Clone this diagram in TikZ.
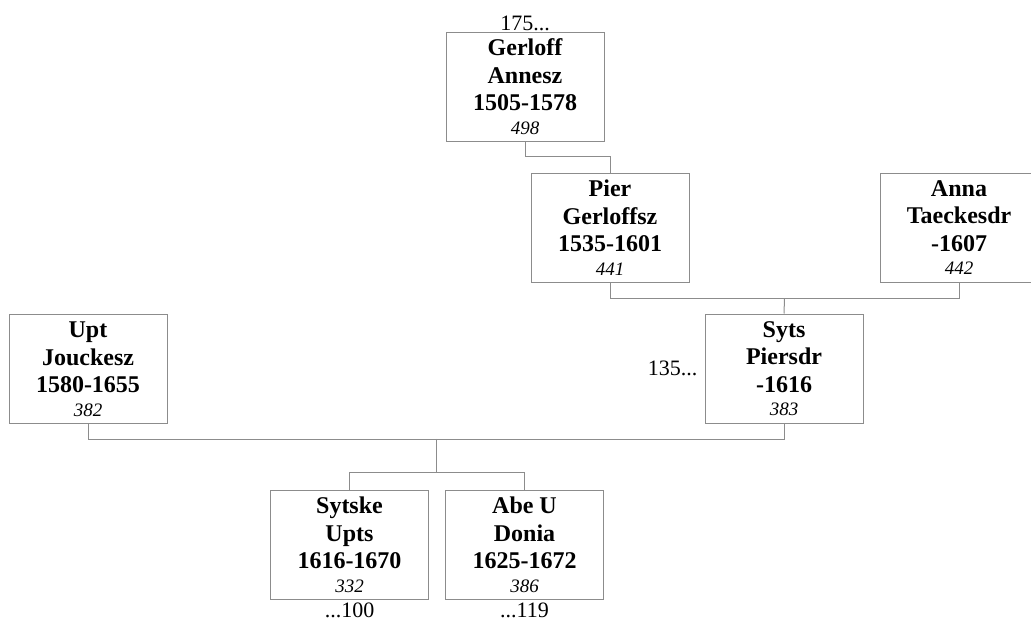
\documentclass[tikz,border=0pt]{standalone}
\usepackage{fontspec}
\setmainfont{Liberation Serif}
\usepackage{xcolor}
\usepackage{tikz}
\usetikzlibrary{positioning,calc}
\definecolor{borde}{RGB}{140,140,140}
\tikzset{
  persona/.style={draw=borde,line width=1pt,fill=white,minimum width=158pt,minimum height=109pt,
    inner sep=2pt,align=center,font=\fontsize{24}{27.5}\selectfont\bfseries},
  enlace/.style={draw=borde,line width=1pt},
  resto/.style={font=\fontsize{22}{24}\selectfont,inner sep=1pt}
}
\newcommand{\nro}[1]{\\[-4pt]{\fontsize{19}{21}\selectfont\mdseries\itshape #1}}

\begin{document}
\begin{tikzpicture}[x=1pt,y=-1pt]
\useasboundingbox (0,0) rectangle (1031,630);
\node[persona] (gerloff) at (525,86.5) {Gerloff\\Annesz\\1505-1578\nro{498}};
\node[persona] (pier) at (610,227.5) {Pier\\Gerloffsz\\1535-1601\nro{441}};
\node[persona] (anna) at (959,227.5) {Anna\\Taeckesdr\\-1607\nro{442}};
\node[persona] (syts) at (784,368.5) {Syts\\Piersdr\\-1616\nro{383}};
\node[persona] (upt) at (88,369) {Upt\\Jouckesz\\1580-1655\nro{382}};
\node[persona] (sytske) at (349.5,545) {Sytske\\Upts\\1616-1670\nro{332}};
\node[persona,right=16pt of sytske] (abe) {Abe U\\Donia\\1625-1672\nro{386}};

% referencias
\node[resto,above=-1pt of gerloff] (ref175) {175...};
\node[resto,left=6pt of syts] (ref135) {135...};
\node[resto,below=2pt of sytske] (ref100) {...100};
\node[resto,below=2pt of abe] (ref119) {...119};

% lineas
\draw[enlace] (gerloff.south) -- ++(0,15) -| (pier.north);
\draw[enlace] (pier.south) -- ++(0,16) -| (anna.south);
\coordinate (pareja1) at ($(pier.south)!0.5!(anna.south)+(0,16)$);
\draw[enlace] (pareja1) -- (syts.north);
\draw[enlace] (upt.south) -- ++(0,15) -| (syts.south);
\coordinate (pareja2) at ($(upt.south)!0.5!(syts.south)+(0,15)$);
\draw[enlace] (pareja2) -- ++(0,34) coordinate (hijos);
\draw[enlace] (sytske.north) |- (hijos) -| (abe.north);
\end{tikzpicture}
\end{document}
